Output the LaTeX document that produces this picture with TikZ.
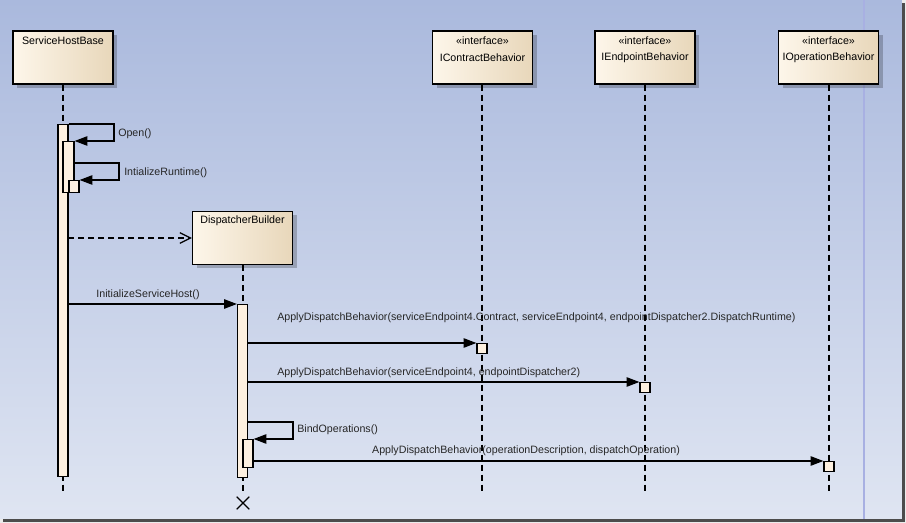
\documentclass[tikz,border=0pt]{standalone}
\usepackage{fontspec}
\setmainfont{Liberation Sans}
\usetikzlibrary{arrows.meta,shadows}
\definecolor{bgtop}{RGB}{170,185,221}
\definecolor{bgbot}{RGB}{223,229,242}
\definecolor{boxl}{RGB}{253,246,234}
\definecolor{boxr}{RGB}{232,215,186}
\definecolor{barfill}{RGB}{253,240,224}
\definecolor{vline}{RGB}{168,176,226}
\tikzset{
  lifebox/.style={draw=black, line width=0.9pt, left color=boxl, right color=boxr,
    minimum width=75pt, minimum height=39.75pt, inner sep=0pt,
    drop shadow={shadow xshift=3pt, shadow yshift=-3pt, fill=black, opacity=0.22}},
  boxtext/.style={font=\fontsize{8}{9}\selectfont, inner sep=0pt, anchor=center},
  actbar/.style={draw=black, line width=0.9pt, fill=barfill, inner sep=0pt, anchor=north, minimum width=7.5pt},
  lifeline/.style={draw=black, line width=0.9pt, dash pattern=on 4.5pt off 3pt},
  msg/.style={draw=black, line width=0.9pt, -{Triangle[length=9.5pt,width=7pt]}},
  createmsg/.style={draw=black, line width=0.9pt, dash pattern=on 4.5pt off 3pt, -{Straight Barb[length=8pt,width=8pt]}},
  msglabel/.style={font=\fontsize{8}{9}\selectfont, inner sep=0pt, text=black!85},
}
\begin{document}
\begin{tikzpicture}[x=0.75pt,y=-0.75pt]
\useasboundingbox (0,0) rectangle (906,523);
% background
\shade[top color=bgtop, bottom color=bgbot] (0,0) rectangle (902,519);
\fill[white!92!black] (902,0) rectangle (906,523);
\fill[white!92!black] (0,519) rectangle (906,523);
\fill[black!70] (902,3) rectangle (905,522);
\fill[black!70] (3,519) rectangle (905,522);
\draw[vline, line width=0.9pt] (864,0) -- (864,519);

% lifeline heads
\node[lifebox] (shb) at (63,57.5) {};
\node[boxtext] (shbt) at (63,41) {ServiceHostBase};
\node[lifebox] (icb) at (482.5,57.5) {};
\node[boxtext] (icbs) at (482.5,41) {«interface»};
\node[boxtext] (icbt) at (482.5,58) {IContractBehavior};
\node[lifebox] (ieb) at (645,57.5) {};
\node[boxtext] (iebs) at (645,41) {«interface»};
\node[boxtext] (iebt) at (645,58) {IEndpointBehavior};
\node[lifebox] (iob) at (828.5,57.5) {};
\node[boxtext] (iobs) at (828.5,41) {«interface»};
\node[boxtext] (iobt) at (828.5,58) {IOperationBehavior};

% lifeline ends
\coordinate (shbend) at (63,493);
\coordinate (dbend) at (243,493);
\coordinate (icbend) at (482,493);
\coordinate (iebend) at (645,493);
\coordinate (iobend) at (829,493);

% lifelines
\draw[lifeline] (shb.south) -- (shbend);
\draw[lifeline] (icb.south -| icbend) -- (icbend);
\draw[lifeline] (ieb.south -| iebend) -- (iebend);
\draw[lifeline] (iob.south -| iobend) -- (iobend);

% created object
\node[lifebox] (db) at (242.5,238) {};
\node[boxtext] (dbt) at (242.5,221) {DispatcherBuilder};
\draw[lifeline] (db.south -| dbend) -- (dbend);

% activation bars
\node[actbar, minimum height=264pt] (a1) at (63,124) {};
\node[actbar, minimum width=8.25pt, minimum height=38.25pt] (a2) at (68.5,141) {};
\node[actbar, minimum height=9pt] (a3) at (74,180) {};
\node[actbar, minimum height=129.75pt] (b1) at (242.5,304) {};
\node[actbar, minimum height=21pt] (b2) at (248,439) {};
\node[actbar, minimum height=7.5pt] (c1) at (482,343) {};
\node[actbar, minimum height=7.5pt] (d1) at (645,382) {};
\node[actbar, minimum height=7.5pt] (e1) at (829,461) {};

% destruction
\node[inner sep=0pt, minimum size=9pt] (dx) at (243,503) {};
\draw[line width=0.9pt] (dx.north west) -- (dx.south east) (dx.north east) -- (dx.south west);

% Open()
\coordinate (o1) at (114,124);
\draw[msg] (a1.north east) -- (o1) |- (a2.north east);
\node[msglabel, anchor=west] (openl) at (118,134) {Open()};

% IntializeRuntime()
\coordinate (ir0) at (74,163);
\coordinate (ir1) at (119,163);
\draw[msg] (ir0) -- (ir1) |- (a3.north east);
\node[msglabel, anchor=west] (irl) at (124,173) {IntializeRuntime()};

% create
\coordinate (cr0) at (68,238);
\draw[createmsg] (cr0) -- (db.west);

% InitializeServiceHost()
\coordinate (ish0) at (68,304);
\draw[msg] (ish0) -- (b1.north west);
\node[msglabel] (ishl) at (148,295) {InitializeServiceHost()};

% ApplyDispatchBehavior 1
\coordinate (m1) at (247,343);
\draw[msg] (m1) -- (c1.north west);
\node[msglabel, anchor=west] (m1l) at (277,318) {ApplyDispatchBehavior(serviceEndpoint4.Contract, serviceEndpoint4, endpointDispatcher2.DispatchRuntime)};

% ApplyDispatchBehavior 2
\coordinate (m2) at (247,382);
\draw[msg] (m2) -- (d1.north west);
\node[msglabel, anchor=west] (m2l) at (277,373) {ApplyDispatchBehavior(serviceEndpoint4, endpointDispatcher2)};

% BindOperations()
\coordinate (bo0) at (247,422);
\coordinate (bo1) at (293,422);
\draw[msg] (bo0) -- (bo1) |- (b2.north east);
\node[msglabel, anchor=west] (bol) at (297,430) {BindOperations()};

% ApplyDispatchBehavior 3
\coordinate (m3) at (253,461);
\draw[msg] (m3) -- (e1.north west);
\node[msglabel] (m3l) at (526,451) {ApplyDispatchBehavior(operationDescription, dispatchOperation)};
\end{tikzpicture}
\end{document}
